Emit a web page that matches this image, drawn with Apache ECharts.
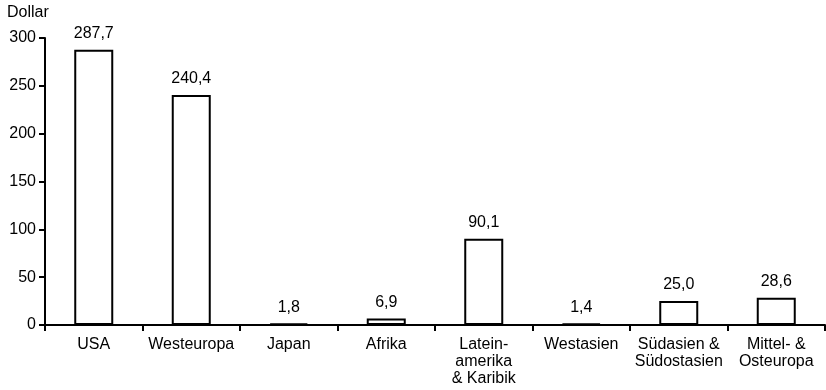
<!DOCTYPE html>
<html><head><meta charset="utf-8">
<script src="https://cdn.jsdelivr.net/npm/echarts@6/dist/echarts.min.js"></script>
<style>html,body{margin:0;padding:0;background:#fff}#c{width:826px;height:390px}</style>
</head><body><div id="c"></div>
<script>
const categories = ['USA','Westeuropa','Japan','Afrika','Latein-\namerika\n& Karibik','Westasien','Südasien &\nSüdostasien','Mittel- &\nOsteuropa'];
const values = [287.7, 240.4, 1.8, 6.9, 90.1, 1.4, 25.0, 28.6];
const yTicks = [0, 50, 100, 150, 200, 250, 300];
const unitLabel = 'Dollar';

const font = 'Liberation Sans, Arial, Helvetica, sans-serif';
const chart = echarts.init(document.getElementById('c'));
chart.setOption({
  animation: false,
  backgroundColor: '#fff',
  grid: {left: 45, right: 1, top: 38, bottom: 65, containLabel: false},
  graphic: [{type: 'text', left: 7, top: 5, style: {text: unitLabel, font: '16px ' + font, fill: '#000'}}],
  xAxis: {
    type: 'category', data: categories,
    axisLine: {lineStyle: {color: '#000', width: 2}},
    axisTick: {show: true, inside: false, length: 6, lineStyle: {color: '#000', width: 2}},
    axisLabel: {color: '#000', fontSize: 16, fontFamily: font, lineHeight: 17, margin: 11, interval: 0}
  },
  yAxis: {
    type: 'value', min: yTicks[0], max: yTicks[yTicks.length-1], interval: 50,
    splitLine: {show: false},
    axisLine: {show: true, lineStyle: {color: '#000', width: 2}},
    axisTick: {show: true, length: 6, lineStyle: {color: '#000', width: 2}},
    axisLabel: {color: '#000', fontSize: 16, fontFamily: font, margin: 9}
  },
  series: [{
    type: 'bar', data: values, barWidth: '40%',
    itemStyle: {color: '#fff', borderColor: '#000', borderWidth: 2},
    label: {show: true, position: 'top', distance: 8, color: '#000', fontSize: 16, fontFamily: font,
      formatter: p => p.value.toFixed(1).replace('.', ',')}
  }]
});
</script></body></html>
